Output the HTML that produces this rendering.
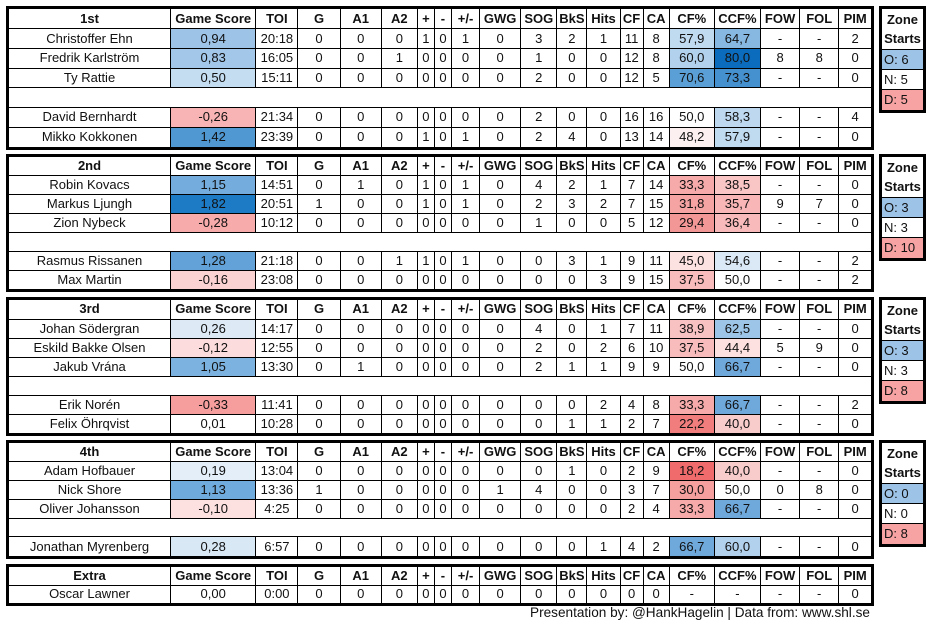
<!DOCTYPE html>
<html><head><meta charset="utf-8"><style>
body{margin:0;width:927px;height:624px;background:#fff;font-family:"Liberation Sans",sans-serif;font-size:13px;color:#111;position:relative;overflow:hidden}
.b{position:absolute;left:6px;width:862px;border:3px solid #000;overflow:hidden}
table{border-collapse:collapse;table-layout:fixed;width:862px}
td{border-right:1px solid #000;border-bottom:1px solid #000;text-align:center;padding:0;white-space:nowrap;overflow:hidden;line-height:14px}
tr:last-child td{border-bottom:none}
td:last-child{border-right:none}
tr.h td{font-weight:bold}
.z{position:absolute;left:879px;width:41px;border:3px solid #000;}
.z div{border-bottom:1px solid #000;text-align:left;padding-left:2px;box-sizing:border-box;height:20px;line-height:19px}
.z div:last-child{border-bottom:none}
.z .zh{height:41px;line-height:19px;text-align:center;font-weight:bold;padding:1px 0 0}
.f{position:absolute;left:530px;top:605px;font-size:13.6px}
.b1 tr{height:19.7px}.b2 tr{height:18.85px}.b3 tr{height:19px}.b4 tr{height:18.8px}.b5 tr{height:18px}
</style></head><body>

<div class="b b1" style="top:6px;height:138px"><table>
<colgroup><col style="width:161px"><col style="width:85px"><col style="width:42px"><col style="width:42px"><col style="width:41px"><col style="width:36px"><col style="width:17px"><col style="width:17px"><col style="width:28px"><col style="width:41px"><col style="width:36px"><col style="width:30px"><col style="width:33px"><col style="width:23px"><col style="width:26px"><col style="width:45px"><col style="width:46px"><col style="width:39px"><col style="width:39px"><col style="width:32px"></colgroup>
<tr class="h"><td>1st</td><td>Game Score</td><td>TOI</td><td>G</td><td>A1</td><td>A2</td><td>+</td><td>-</td><td>+/-</td><td>GWG</td><td>SOG</td><td>BkS</td><td>Hits</td><td>CF</td><td>CA</td><td>CF%</td><td>CCF%</td><td>FOW</td><td>FOL</td><td>PIM</td></tr>
<tr><td>Christoffer Ehn</td><td style="background:#9dc3e6">0,94</td><td>20:18</td><td>0</td><td>0</td><td>0</td><td>1</td><td>0</td><td>1</td><td>0</td><td>3</td><td>2</td><td>1</td><td>11</td><td>8</td><td style="background:#c0daf0">57,9</td><td style="background:#86b8e2">64,7</td><td>-</td><td>-</td><td>2</td></tr>
<tr><td>Fredrik Karlström</td><td style="background:#a3c7e8">0,83</td><td>16:05</td><td>0</td><td>0</td><td>1</td><td>0</td><td>0</td><td>0</td><td>0</td><td>1</td><td>0</td><td>0</td><td>12</td><td>8</td><td style="background:#b2d1ec">60,0</td><td style="background:#0b6cbd">80,0</td><td>8</td><td>8</td><td>0</td></tr>
<tr><td>Ty Rattie</td><td style="background:#c5ddf1">0,50</td><td>15:11</td><td>0</td><td>0</td><td>0</td><td>0</td><td>0</td><td>0</td><td>0</td><td>2</td><td>0</td><td>0</td><td>12</td><td>5</td><td style="background:#5a9fd5">70,6</td><td style="background:#4591d0">73,3</td><td>-</td><td>-</td><td>0</td></tr>
<tr><td colspan="20">&nbsp;</td></tr>
<tr><td>David Bernhardt</td><td style="background:#f8b4b4">-0,26</td><td>21:34</td><td>0</td><td>0</td><td>0</td><td>0</td><td>0</td><td>0</td><td>0</td><td>2</td><td>0</td><td>0</td><td>16</td><td>16</td><td>50,0</td><td style="background:#bed8ef">58,3</td><td>-</td><td>-</td><td>4</td></tr>
<tr><td>Mikko Kokkonen</td><td style="background:#4f98d2">1,42</td><td>23:39</td><td>0</td><td>0</td><td>0</td><td>1</td><td>0</td><td>1</td><td>0</td><td>2</td><td>4</td><td>0</td><td>13</td><td>14</td><td style="background:#fdf0f0">48,2</td><td style="background:#c0daf0">57,9</td><td>-</td><td>-</td><td>0</td></tr>
</table></div>

<div class="b b2" style="top:154px;height:132px"><table>
<colgroup><col style="width:161px"><col style="width:85px"><col style="width:42px"><col style="width:42px"><col style="width:41px"><col style="width:36px"><col style="width:17px"><col style="width:17px"><col style="width:28px"><col style="width:41px"><col style="width:36px"><col style="width:30px"><col style="width:33px"><col style="width:23px"><col style="width:26px"><col style="width:45px"><col style="width:46px"><col style="width:39px"><col style="width:39px"><col style="width:32px"></colgroup>
<tr class="h"><td>2nd</td><td>Game Score</td><td>TOI</td><td>G</td><td>A1</td><td>A2</td><td>+</td><td>-</td><td>+/-</td><td>GWG</td><td>SOG</td><td>BkS</td><td>Hits</td><td>CF</td><td>CA</td><td>CF%</td><td>CCF%</td><td>FOW</td><td>FOL</td><td>PIM</td></tr>
<tr><td>Robin Kovacs</td><td style="background:#73acdd">1,15</td><td>14:51</td><td>0</td><td>1</td><td>0</td><td>1</td><td>0</td><td>1</td><td>0</td><td>4</td><td>2</td><td>1</td><td>7</td><td>14</td><td style="background:#f6aaaa">33,3</td><td style="background:#f9c5c5">38,5</td><td>-</td><td>-</td><td>0</td></tr>
<tr><td>Markus Ljungh</td><td style="background:#1d7ac5">1,82</td><td>20:51</td><td>1</td><td>0</td><td>0</td><td>1</td><td>0</td><td>1</td><td>0</td><td>2</td><td>3</td><td>2</td><td>7</td><td>15</td><td style="background:#f5a3a3">31,8</td><td style="background:#f8b6b6">35,7</td><td>9</td><td>7</td><td>0</td></tr>
<tr><td>Zion Nybeck</td><td style="background:#f8abab">-0,28</td><td>10:12</td><td>0</td><td>0</td><td>0</td><td>0</td><td>0</td><td>0</td><td>0</td><td>1</td><td>0</td><td>0</td><td>5</td><td>12</td><td style="background:#f39696">29,4</td><td style="background:#f8baba">36,4</td><td>-</td><td>-</td><td>0</td></tr>
<tr><td colspan="20">&nbsp;</td></tr>
<tr><td>Rasmus Rissanen</td><td style="background:#62a2d8">1,28</td><td>21:18</td><td>0</td><td>0</td><td>1</td><td>1</td><td>0</td><td>1</td><td>0</td><td>0</td><td>3</td><td>1</td><td>9</td><td>11</td><td style="background:#fde2e2">45,0</td><td style="background:#dbe9f6">54,6</td><td>-</td><td>-</td><td>2</td></tr>
<tr><td>Max Martin</td><td style="background:#fbd2d2">-0,16</td><td>23:08</td><td>0</td><td>0</td><td>0</td><td>0</td><td>0</td><td>0</td><td>0</td><td>0</td><td>0</td><td>3</td><td>9</td><td>15</td><td style="background:#f8bcbc">37,5</td><td>50,0</td><td>-</td><td>-</td><td>2</td></tr>
</table></div>

<div class="b b3" style="top:297px;height:133px"><table>
<colgroup><col style="width:161px"><col style="width:85px"><col style="width:42px"><col style="width:42px"><col style="width:41px"><col style="width:36px"><col style="width:17px"><col style="width:17px"><col style="width:28px"><col style="width:41px"><col style="width:36px"><col style="width:30px"><col style="width:33px"><col style="width:23px"><col style="width:26px"><col style="width:45px"><col style="width:46px"><col style="width:39px"><col style="width:39px"><col style="width:32px"></colgroup>
<tr class="h"><td>3rd</td><td>Game Score</td><td>TOI</td><td>G</td><td>A1</td><td>A2</td><td>+</td><td>-</td><td>+/-</td><td>GWG</td><td>SOG</td><td>BkS</td><td>Hits</td><td>CF</td><td>CA</td><td>CF%</td><td>CCF%</td><td>FOW</td><td>FOL</td><td>PIM</td></tr>
<tr><td>Johan Södergran</td><td style="background:#ddeaf6">0,26</td><td>14:17</td><td>0</td><td>0</td><td>0</td><td>0</td><td>0</td><td>0</td><td>0</td><td>4</td><td>0</td><td>1</td><td>7</td><td>11</td><td style="background:#f9c2c2">38,9</td><td style="background:#9cc5e7">62,5</td><td>-</td><td>-</td><td>0</td></tr>
<tr><td>Eskild Bakke Olsen</td><td style="background:#fcdcdc">-0,12</td><td>12:55</td><td>0</td><td>0</td><td>0</td><td>0</td><td>0</td><td>0</td><td>0</td><td>2</td><td>0</td><td>2</td><td>6</td><td>10</td><td style="background:#f8bcbc">37,5</td><td style="background:#fde0e0">44,4</td><td>5</td><td>9</td><td>0</td></tr>
<tr><td>Jakub Vrána</td><td style="background:#7cb2df">1,05</td><td>13:30</td><td>0</td><td>1</td><td>0</td><td>0</td><td>0</td><td>0</td><td>0</td><td>2</td><td>1</td><td>1</td><td>9</td><td>9</td><td>50,0</td><td style="background:#6fa9dc">66,7</td><td>-</td><td>-</td><td>0</td></tr>
<tr><td colspan="20">&nbsp;</td></tr>
<tr><td>Erik Norén</td><td style="background:#f69d9d">-0,33</td><td>11:41</td><td>0</td><td>0</td><td>0</td><td>0</td><td>0</td><td>0</td><td>0</td><td>0</td><td>0</td><td>2</td><td>4</td><td>8</td><td style="background:#f6aaaa">33,3</td><td style="background:#6fa9dc">66,7</td><td>-</td><td>-</td><td>2</td></tr>
<tr><td>Felix Öhrqvist</td><td>0,01</td><td>10:28</td><td>0</td><td>0</td><td>0</td><td>0</td><td>0</td><td>0</td><td>0</td><td>0</td><td>1</td><td>1</td><td>2</td><td>7</td><td style="background:#f17d7d">22,2</td><td style="background:#f9cccc">40,0</td><td>-</td><td>-</td><td>0</td></tr>
</table></div>

<div class="b b4" style="top:440px;height:113px"><table>
<colgroup><col style="width:161px"><col style="width:85px"><col style="width:42px"><col style="width:42px"><col style="width:41px"><col style="width:36px"><col style="width:17px"><col style="width:17px"><col style="width:28px"><col style="width:41px"><col style="width:36px"><col style="width:30px"><col style="width:33px"><col style="width:23px"><col style="width:26px"><col style="width:45px"><col style="width:46px"><col style="width:39px"><col style="width:39px"><col style="width:32px"></colgroup>
<tr class="h"><td>4th</td><td>Game Score</td><td>TOI</td><td>G</td><td>A1</td><td>A2</td><td>+</td><td>-</td><td>+/-</td><td>GWG</td><td>SOG</td><td>BkS</td><td>Hits</td><td>CF</td><td>CA</td><td>CF%</td><td>CCF%</td><td>FOW</td><td>FOL</td><td>PIM</td></tr>
<tr><td>Adam Hofbauer</td><td style="background:#e3eef8">0,19</td><td>13:04</td><td>0</td><td>0</td><td>0</td><td>0</td><td>0</td><td>0</td><td>0</td><td>0</td><td>1</td><td>0</td><td>2</td><td>9</td><td style="background:#f06c6c">18,2</td><td style="background:#f9cccc">40,0</td><td>-</td><td>-</td><td>0</td></tr>
<tr><td>Nick Shore</td><td style="background:#6fabdc">1,13</td><td>13:36</td><td>1</td><td>0</td><td>0</td><td>0</td><td>0</td><td>0</td><td>1</td><td>4</td><td>0</td><td>0</td><td>3</td><td>7</td><td style="background:#f59f9f">30,0</td><td>50,0</td><td>0</td><td>8</td><td>0</td></tr>
<tr><td>Oliver Johansson</td><td style="background:#fde0e0">-0,10</td><td>4:25</td><td>0</td><td>0</td><td>0</td><td>0</td><td>0</td><td>0</td><td>0</td><td>0</td><td>0</td><td>0</td><td>2</td><td>4</td><td style="background:#f6aaaa">33,3</td><td style="background:#6fa9dc">66,7</td><td>-</td><td>-</td><td>0</td></tr>
<tr><td colspan="20">&nbsp;</td></tr>
<tr><td>Jonathan Myrenberg</td><td style="background:#d9e8f5">0,28</td><td>6:57</td><td>0</td><td>0</td><td>0</td><td>0</td><td>0</td><td>0</td><td>0</td><td>0</td><td>0</td><td>1</td><td>4</td><td>2</td><td style="background:#6fa9dc">66,7</td><td style="background:#b2d1ec">60,0</td><td>-</td><td>-</td><td>0</td></tr>
</table></div>

<div class="b b5" style="top:564px;height:36px"><table>
<colgroup><col style="width:161px"><col style="width:85px"><col style="width:42px"><col style="width:42px"><col style="width:41px"><col style="width:36px"><col style="width:17px"><col style="width:17px"><col style="width:28px"><col style="width:41px"><col style="width:36px"><col style="width:30px"><col style="width:33px"><col style="width:23px"><col style="width:26px"><col style="width:45px"><col style="width:46px"><col style="width:39px"><col style="width:39px"><col style="width:32px"></colgroup>
<tr class="h"><td>Extra</td><td>Game Score</td><td>TOI</td><td>G</td><td>A1</td><td>A2</td><td>+</td><td>-</td><td>+/-</td><td>GWG</td><td>SOG</td><td>BkS</td><td>Hits</td><td>CF</td><td>CA</td><td>CF%</td><td>CCF%</td><td>FOW</td><td>FOL</td><td>PIM</td></tr>
<tr><td>Oscar Lawner</td><td>0,00</td><td>0:00</td><td>0</td><td>0</td><td>0</td><td>0</td><td>0</td><td>0</td><td>0</td><td>0</td><td>0</td><td>0</td><td>0</td><td>0</td><td>-</td><td>-</td><td>-</td><td>-</td><td>0</td></tr>
</table></div>

<div class="z" style="top:6px"><div class="zh">Zone<br>Starts</div><div style="background:#9dc3e6">O: 6</div><div>N: 5</div><div style="background:#f7a3a3">D: 5</div></div>
<div class="z" style="top:154px"><div class="zh">Zone<br>Starts</div><div style="background:#9dc3e6">O: 3</div><div>N: 3</div><div style="background:#f7a3a3">D: 10</div></div>
<div class="z" style="top:297px"><div class="zh">Zone<br>Starts</div><div style="background:#9dc3e6">O: 3</div><div>N: 3</div><div style="background:#f7a3a3">D: 8</div></div>
<div class="z" style="top:440px"><div class="zh">Zone<br>Starts</div><div style="background:#9dc3e6">O: 0</div><div>N: 0</div><div style="background:#f7a3a3">D: 8</div></div>

<div class="f">Presentation by: @HankHagelin | Data from: www.shl.se</div>
</body></html>
